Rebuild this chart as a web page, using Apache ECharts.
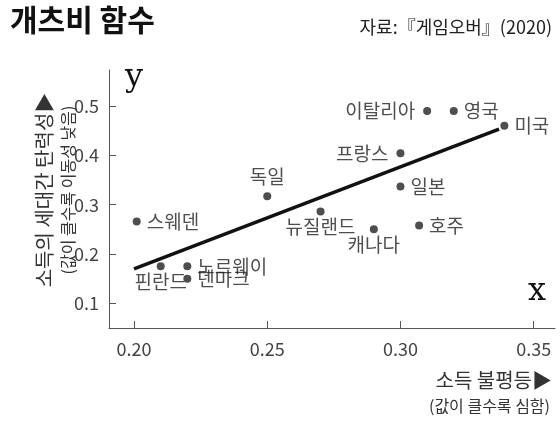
<!DOCTYPE html><html><head><meta charset="utf-8"><script src="https://cdn.jsdelivr.net/npm/echarts@6/dist/echarts.min.js"></script>
<style>html,body{margin:0;padding:0;background:#fff}#c{width:560px;height:431px}</style></head><body><div id="c"></div><script>
const countries=['이탈리아','영국','미국','프랑스','일본','독일','뉴질랜드','호주','캐나다','스웨덴','핀란드','노르웨이','덴마크'];
const inequality=[0.31,0.32,0.339,0.30,0.30,0.25,0.27,0.307,0.29,0.201,0.21,0.22,0.22];
const mobility=[0.49,0.49,0.46,0.404,0.337,0.317,0.286,0.258,0.25,0.266,0.175,0.175,0.15];
const labelPos=['left','right','right','left','right','top','nz','right','ca','right','fi','no','dk'];
const trendX=[0.2,0.337];const trendY=[0.17,0.453];
const F='"Noto Sans CJK KR","Noto Sans",sans-serif';
const posMap={left:{position:'left',distance:8},right:{position:'right',distance:6},top:{position:'top',distance:6},
nz:{position:'bottom',distance:2,offset:[-16,2]},ca:{position:'bottom',distance:2,offset:[26,2]},
fi:{position:'bottom',distance:2,offset:[-12,2]},no:{position:'right',distance:6,offset:[0,-3]},dk:{position:'right',distance:6,offset:[0,6]}};
const data=countries.map((n,i)=>({value:[inequality[i],mobility[i]],name:n,label:Object.assign({show:true,formatter:n,fontSize:19,color:'#222',fontFamily:F},posMap[labelPos[i]])}));
const ch=echarts.init(document.getElementById('c'));
ch.setOption({animation:false,
grid:{left:109,right:5,top:70,bottom:103},
xAxis:{type:'value',min:0.1906,max:0.358,axisLine:{lineStyle:{color:'#555'}},splitLine:{show:false},
axisLabel:{color:'#444',fontSize:18,fontFamily:F,margin:12,customValues:[0.2,0.25,0.3,0.35],formatter:v=>v.toFixed(2)},
axisTick:{inside:true,length:7,lineStyle:{color:'#555'},customValues:[0.2,0.25,0.3,0.35]}},
yAxis:{type:'value',min:0.05,max:0.573,axisLine:{show:true,lineStyle:{color:'#555'}},splitLine:{show:false},
axisTick:{show:true,inside:true,length:7,lineStyle:{color:'#555'},customValues:[0.1,0.2,0.3,0.4,0.5]},
axisLabel:{color:'#444',fontSize:18,fontFamily:F,margin:10,customValues:[0.1,0.2,0.3,0.4,0.5],formatter:v=>v.toFixed(1)}},
series:[{type:'line',data:trendX.map((x,i)=>[x,trendY[i]]),symbol:'none',lineStyle:{color:'#111',width:3.5},z:1},
{type:'scatter',data:data,symbolSize:8,itemStyle:{color:'#222'},z:3,labelLayout:{hideOverlap:false}}],
graphic:[
{type:'text',left:10,top:5,style:{text:'개츠비 함수',font:'bold 30px '+F,fill:'#111'}},
{type:'text',right:8,top:18,style:{text:'자료:『게임오버』(2020)',font:'18px '+F,fill:'#222'}},
{type:'text',left:125,top:62,style:{text:'y',font:'32px "DejaVu Serif",serif',fill:'#111'}},
{type:'text',left:528,top:276,style:{text:'x',font:'32px "DejaVu Serif",serif',fill:'#111'}},
{type:'text',x:44,y:190,rotation:Math.PI/2,originX:0,originY:0,style:{text:'소득의 세대간 탄력성▶',font:'20px '+F,fill:'#333',align:'center',verticalAlign:'middle'}},
{type:'text',x:68,y:190,rotation:Math.PI/2,originX:0,originY:0,style:{text:'(값이 클수록 이동성 낮음)',font:'16px '+F,fill:'#333',align:'center',verticalAlign:'middle'}},
{type:'text',right:8,top:370,style:{text:'소득 불평등▶',font:'20px '+F,fill:'#333'}},
{type:'text',right:10,top:398,style:{text:'(값이 클수록 심함)',font:'16px '+F,fill:'#333'}}
]});
</script></body></html>
